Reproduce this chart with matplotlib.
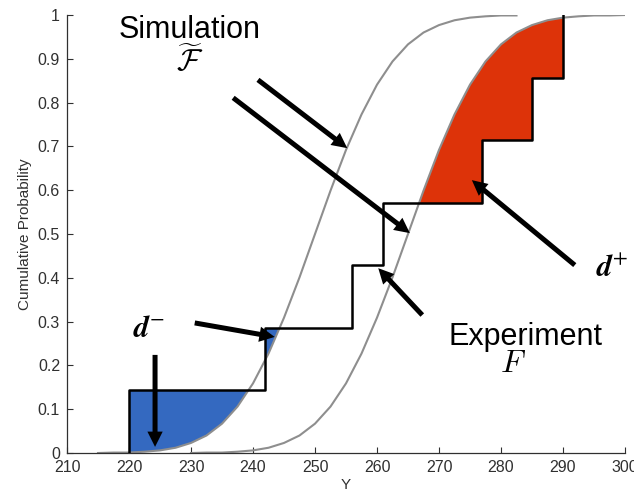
import numpy as np
import matplotlib
matplotlib.use("Agg")
from matplotlib import pyplot as plt
from matplotlib.patches import Polygon

plt.rcParams['font.family'] = ['Liberation Sans', 'DejaVu Sans']

# experiment sample (empirical CDF jumps)
y_exp = [220, 242, 256, 261, 277, 285, 290]

x_sim1 = [215, 217.5, 220, 222.5, 225, 227.5, 230, 232.5, 235, 237.5, 240, 242.5,
          245, 247.5, 250, 252.5, 255, 257.5, 260, 262.5, 265, 267.5, 270, 272.5,
          275, 277.5, 280, 282.5]
cdf_sim1 = [0.000, 0.001, 0.001, 0.003, 0.006, 0.012, 0.023, 0.040, 0.067, 0.106,
            0.159, 0.227, 0.309, 0.401, 0.500, 0.599, 0.692, 0.773, 0.841, 0.894,
            0.933, 0.960, 0.977, 0.988, 0.994, 0.997, 0.999, 0.999]
x_sim2 = [230, 232.5, 235, 237.5, 240, 242.5, 245, 247.5, 250, 252.5, 255, 257.5,
          260, 262.5, 265, 267.5, 270, 272.5, 275, 277.5, 280, 282.5, 285, 287.5,
          290, 292.5, 295, 297.5, 300]
cdf_sim2 = [0.000, 0.001, 0.001, 0.003, 0.006, 0.012, 0.023, 0.040, 0.067, 0.106,
            0.159, 0.227, 0.309, 0.401, 0.500, 0.599, 0.692, 0.773, 0.841, 0.894,
            0.933, 0.960, 0.977, 0.988, 0.994, 0.997, 0.999, 0.999, 1.000]

xticks = [210, 220, 230, 240, 250, 260, 270, 280, 290, 300]
yticks = [0, 0.1, 0.2, 0.3, 0.4, 0.5, 0.6, 0.7, 0.8, 0.9, 1]
ytick_labels = ['0', '0.1', '0.2', '0.3', '0.4', '0.5', '0.6', '0.7', '0.8', '0.9', '1']

blue = '#3469c0'
red = '#dd3309'
gray = '#8e8e8e'

n = len(y_exp)
xs = [y_exp[0]] + y_exp
ecdf = [k / n for k in range(n + 1)]

fig = plt.figure(figsize=(6.34, 4.97), dpi=100)
ax = fig.add_axes([0.1057, 0.0885, 0.8801, 0.8813])

# d-: experiment above simulation
lo = ax.fill_between(xs, ecdf, 0, step='post', color=blue, lw=0, zorder=1)
above = Polygon(list(zip(x_sim1, cdf_sim1)) + [(x_sim1[-1], 1.2), (x_sim1[0], 1.2)],
                closed=True, transform=ax.transData)
lo.set_clip_path(above)

# d+: simulation above experiment
hi = ax.fill_between(xs, ecdf, 1, step='post', color=red, lw=0, zorder=1)
below = Polygon(list(zip(x_sim2, cdf_sim2)) + [(x_sim2[-1], -0.2), (x_sim2[0], -0.2)],
                closed=True, transform=ax.transData)
hi.set_clip_path(below)

ax.plot(x_sim1, cdf_sim1, color=gray, lw=1.5, zorder=2)
ax.plot(x_sim2, cdf_sim2, color=gray, lw=1.5, zorder=2)
ax.step(xs, ecdf, where='post', color='k', lw=1.8, zorder=3)

ax.set_xlim(210, 300)
ax.set_ylim(0, 1)
ax.set_xticks(xticks)
ax.set_yticks(yticks)
ax.set_yticklabels(ytick_labels)
ax.tick_params(direction='in', length=4, width=0.8, labelsize=11.5,
               colors='#303030', pad=5)
for s in ['top', 'right']:
    ax.spines[s].set_visible(False)
for s in ['left', 'bottom']:
    ax.spines[s].set_color('#303030')
    ax.spines[s].set_linewidth(0.9)
ax.set_xlabel('Y', fontsize=11, color='#303030', labelpad=2)
ax.set_ylabel('Cumulative Probability', fontsize=11, color='#303030', labelpad=4)

arrow = dict(facecolor='k', edgecolor='none', width=3.6, headwidth=11,
             headlength=11, shrink=0)
arrows = [((240.8, 0.852), (255.2, 0.696)),
          ((236.8, 0.811), (265.3, 0.502)),
          ((291.9, 0.429), (275.3, 0.623)),
          ((267.3, 0.315), (260.2, 0.422)),
          ((230.6, 0.297), (243.5, 0.265)),
          ((224.2, 0.224), (224.2, 0.014))]
for start, tip in arrows:
    ax.annotate('', xy=tip, xytext=start, arrowprops=arrow, zorder=4,
                annotation_clip=False)

ax.text(229.7, 0.947, 'Simulation', fontsize=22, ha='center', va='baseline')
ax.text(229.8, 0.894, r'$\widetilde{\mathcal{F}}$', fontsize=22, ha='center',
        va='center', math_fontfamily='cm')
ax.text(283.9, 0.247, 'Experiment', fontsize=22, ha='center', va='baseline')
ax.text(281.9, 0.203, r'$F$', fontsize=23, ha='center', va='center',
        math_fontfamily='cm')
ax.text(223.2, 0.265, r'$\boldsymbol{d}^{-}$', fontsize=22, ha='center',
        va='baseline', math_fontfamily='stix')
ax.text(297.9, 0.402, r'$\boldsymbol{d}^{+}$', fontsize=22, ha='center',
        va='baseline', math_fontfamily='stix', clip_on=False)

fig.savefig('out.png', dpi=100)
